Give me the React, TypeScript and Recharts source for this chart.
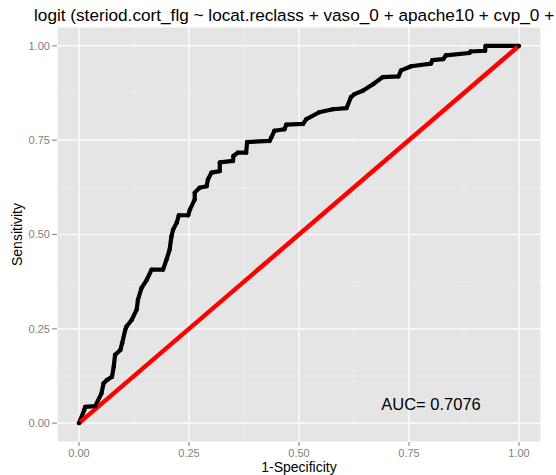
import {
  LineChart,
  Line,
  XAxis,
  YAxis,
  CartesianGrid,
  ReferenceLine,
  ReferenceDot,
  Label,
  Customized
} from "recharts";

// ROC curve corners
const rocFpr = [
  0.0, 0.012, 0.014, 0.037, 0.051, 0.056, 0.063, 0.075, 0.079, 0.082,
  0.094, 0.098, 0.105, 0.108, 0.12, 0.131, 0.134, 0.142, 0.154, 0.165,
  0.191, 0.199, 0.206, 0.21, 0.214, 0.222, 0.227, 0.248, 0.252, 0.263,
  0.263, 0.274, 0.29, 0.293, 0.301, 0.32, 0.32, 0.35, 0.351, 0.361,
  0.38, 0.382, 0.433, 0.437, 0.444, 0.467, 0.471, 0.509, 0.517, 0.546,
  0.577, 0.608, 0.618, 0.626, 0.645, 0.669, 0.69, 0.726, 0.732, 0.755,
  0.8, 0.803, 0.828, 0.834, 0.887, 0.89, 0.923, 0.924, 1.0
];
const rocTpr = [
  0.0, 0.035, 0.043, 0.045, 0.079, 0.106, 0.114, 0.123, 0.15, 0.181,
  0.194, 0.212, 0.247, 0.256, 0.274, 0.301, 0.327, 0.358, 0.38, 0.407,
  0.407, 0.434, 0.46, 0.495, 0.513, 0.531, 0.551, 0.551, 0.566, 0.593,
  0.611, 0.624, 0.628, 0.646, 0.664, 0.668, 0.691, 0.695, 0.708, 0.717,
  0.717, 0.745, 0.748, 0.757, 0.775, 0.779, 0.791, 0.793, 0.806, 0.824,
  0.832, 0.835, 0.864, 0.872, 0.881, 0.899, 0.917, 0.919, 0.935, 0.946,
  0.953, 0.962, 0.965, 0.975, 0.981, 0.985, 0.987, 1.0, 1.0
];

// chance line
const diagFpr = [0, 1];
const diagTpr = [0, 1];

const majorTicks = [0, 0.25, 0.5, 0.75, 1];
const minorTicks = [0.125, 0.375, 0.625, 0.875];

const titleText =
  "logit (steriod.cort_flg ~ locat.reclass + vaso_0 + apache10 + cvp_0 +";
const aucText = "AUC= 0.7076";

const rocData = rocFpr.map((x, i) => ({ x, y: rocTpr[i] }));
const diagData = diagFpr.map((x, i) => ({ x, y: diagTpr[i] }));

const font = "'Liberation Sans', Arial, sans-serif";
const tickStyle = { fontSize: 11, fill: "#7F7F7F", fontFamily: font };

function App() {
  return (
    <div style={{ position: "absolute", left: 0, top: 0 }}>
      <LineChart
        width={556}
        height={475}
        margin={{ top: 27, right: 15, bottom: 0, left: 0 }}
        style={{ fontFamily: font }}
      >
        <CartesianGrid
          fill="#E5E5E5"
          stroke="#FFFFFF"
          strokeWidth={1.2}
          strokeDasharray=""
        />
        {minorTicks.map((t) => (
          <ReferenceLine key={"vx" + t} x={t} stroke="#F2F2F2" strokeWidth={0.6} />
        ))}
        {minorTicks.map((t) => (
          <ReferenceLine key={"hy" + t} y={t} stroke="#F2F2F2" strokeWidth={0.6} />
        ))}
        <XAxis
          type="number"
          dataKey="x"
          domain={[-0.05, 1.05]}
          ticks={majorTicks}
          tickFormatter={(v) => v.toFixed(2)}
          allowDataOverflow
          axisLine={false}
          tickSize={4}
          tickMargin={3}
          tickLine={{ stroke: "#7F7F7F" }}
          tick={tickStyle}
          height={33}
        >
          <Label
            value="1-Specificity"
            position="insideBottom"
            offset={3}
            style={{ fontSize: 14, fill: "#000", fontFamily: font }}
          />
        </XAxis>
        <YAxis
          type="number"
          dataKey="y"
          domain={[-0.05, 1.05]}
          ticks={majorTicks}
          tickFormatter={(v) => v.toFixed(2)}
          allowDataOverflow
          axisLine={false}
          tickSize={5}
          tickMargin={2}
          tickLine={{ stroke: "#7F7F7F" }}
          tick={tickStyle}
          width={57}
        >
          <Label
            value="Sensitivity"
            angle={-90}
            position="insideLeft"
            offset={17}
            style={{ fontSize: 14, fill: "#000", fontFamily: font, textAnchor: "middle" }}
          />
        </YAxis>
        <Line
          data={rocData}
          dataKey="y"
          type="linear"
          stroke="#000"
          strokeWidth={4.2}
          strokeLinejoin="round"
          dot={{ r: 2.2, fill: "#000", stroke: "none" }}
          isAnimationActive={false}
        />
        <Line
          data={diagData}
          dataKey="y"
          type="linear"
          stroke="#FF0000"
          strokeWidth={4.5}
          dot={false}
          isAnimationActive={false}
        />
        <ReferenceDot
          x={0.8}
          y={0.05}
          r={0}
          fill="none"
          stroke="none"
          label={{
            value: aucText,
            position: "center",
            fontSize: 16.5,
            fill: "#000",
            fontFamily: font
          }}
        />
        <Customized
          component={() => (
            <text
              x={34}
              y={21}
              fontSize={17.2}
              fill="#000"
              fontFamily={font}
            >
              {titleText}
            </text>
          )}
        />
      </LineChart>
    </div>
  );
}

export default App;
